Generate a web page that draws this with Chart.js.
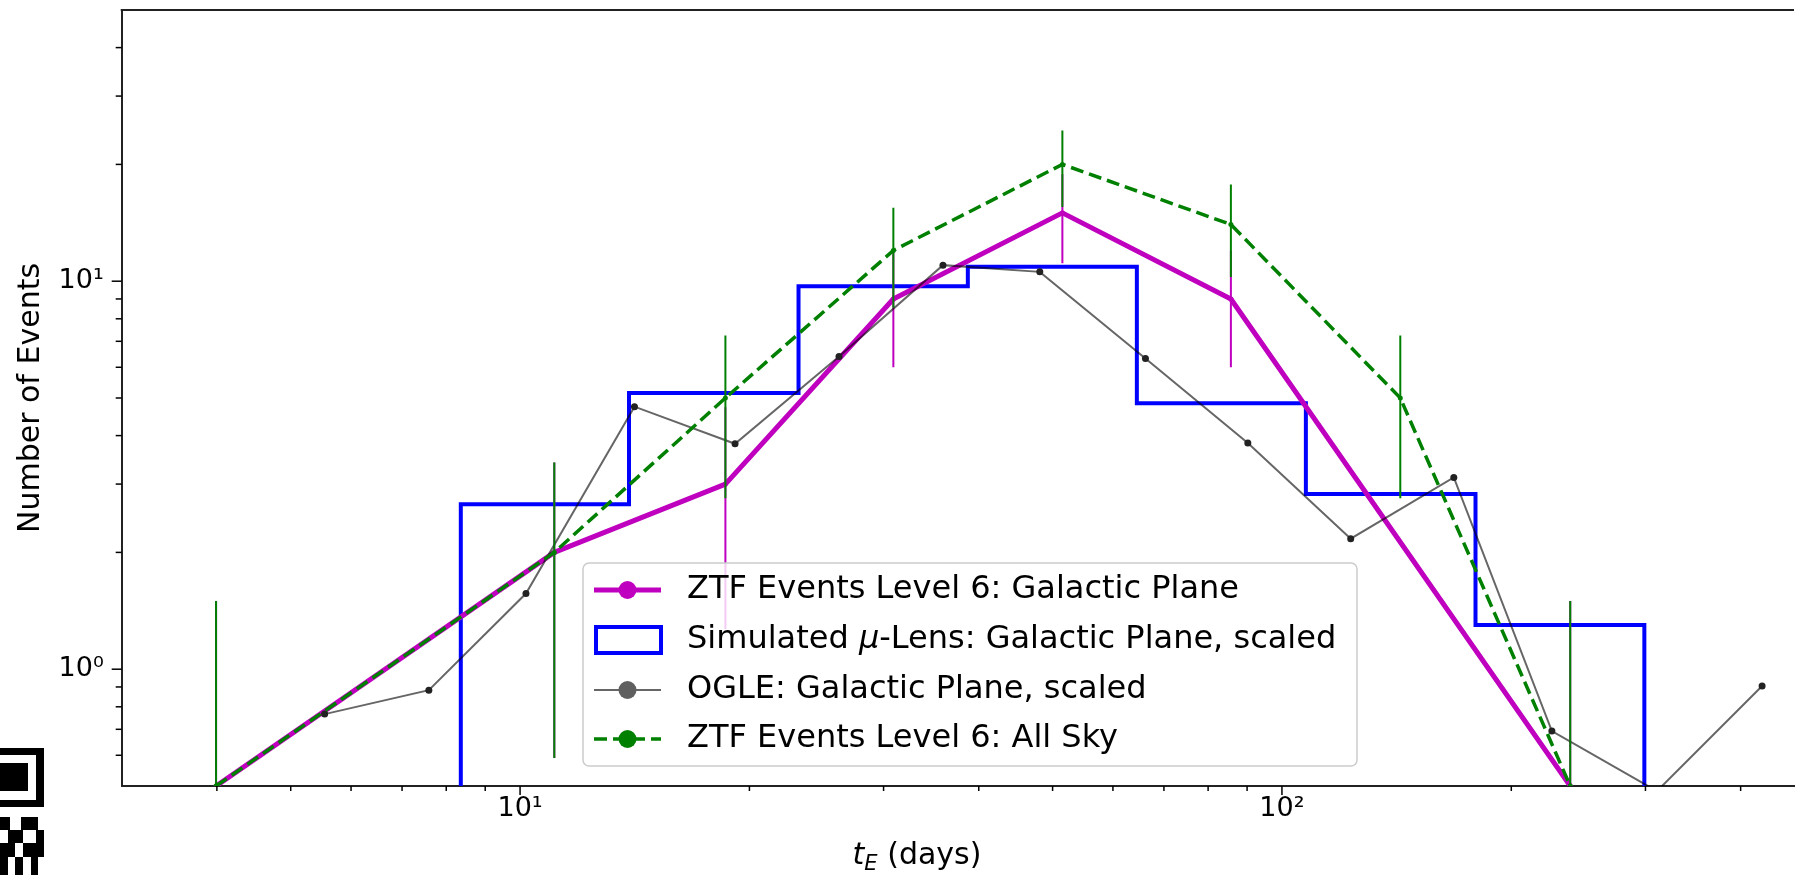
<!DOCTYPE html>
<html>
<head>
<meta charset="utf-8">
<script src="https://cdn.jsdelivr.net/npm/chart.js@4.4.1/dist/chart.umd.min.js"></script>
<style>
  html, body { margin: 0; padding: 0; background: #fff; overflow: hidden; }
  #wrap { width: 1798px; height: 875px; }
</style>
</head>
<body>
<div id="wrap"><canvas id="c" width="1798" height="875"></canvas></div>
<script>
// Einstein-timescale (t_E) distributions of microlensing events.

// ZTF level-6 events in the Galactic plane
const ztfGalTE  = [3.99, 11.09, 18.6, 30.9, 51.5, 85.7, 239];
const ztfGalN   = [0.5, 2, 3, 9, 15, 9, 0.5];
const ztfGalErr = [1.0, 1.41, 1.73, 3.0, 3.87, 3.0, 1.0];

// ZTF level-6 events over the whole sky
const ztfAllTE  = [3.99, 11.09, 18.6, 30.9, 51.5, 85.7, 143, 239];
const ztfAllN   = [0.5, 2, 5, 12, 20, 14, 5, 0.5];
const ztfAllErr = [1.0, 1.41, 2.24, 3.46, 4.47, 3.74, 2.24, 1.0];

// Simulated microlensing histogram (bin edges and scaled counts)
const simEdges  = [8.36, 13.9, 23.2, 38.7, 64.5, 107.5, 179.5, 299];
const simCounts = [2.66, 5.15, 9.71, 10.9, 4.85, 2.83, 1.30];

// OGLE Galactic-plane distribution, scaled
const ogleTE = [5.54, 7.59, 10.18, 14.13, 19.15, 26.22, 35.9, 48.1, 66.2, 90.2, 123.1, 168.1, 226.1, 310.6, 426.8];
const ogleN  = [0.766, 0.883, 1.567, 4.75, 3.81, 6.40, 11.0, 10.57, 6.32, 3.83, 2.17, 3.12, 0.693, 0.485, 0.905];

// Axis ranges and ticks
const xRange = [3, 470];
const yRange = [0.5, 50];
const xMajorTicks = [10, 100];
const xMinorTicks = [4, 5, 6, 7, 8, 9, 20, 30, 40, 50, 60, 70, 80, 90, 200, 300, 400];
const yMajorTicks = [1, 10];
const yMinorTicks = [0.6, 0.7, 0.8, 0.9, 2, 3, 4, 5, 6, 7, 8, 9, 20, 30, 40];
const xTickLabels = {10: '10\u00B9', 100: '10\u00B2'};
const yTickLabels = {1: '10\u2070', 10: '10\u00B9'};

const EMPTY_BIN = 0.1;   // empty bins fall below the visible range
const FAMILY = "'DejaVu Sans', sans-serif";

const MAGENTA = '#bf00bf';
const BLUE = '#0000ff';
const GREEN = '#008000';
const OGLE_LINE = 'rgba(0,0,0,0.6)';

const pts = (xs, ys) => xs.map((x, i) => ({x, y: ys[i]}));
const histPoints = [{x: simEdges[0], y: EMPTY_BIN}].concat(
  simEdges.map((e, i) => ({x: e, y: i < simCounts.length ? simCounts[i] : EMPTY_BIN}))
);

// vertical error bars drawn right after their own dataset
const errorBars = {
  id: 'errorBars',
  afterDatasetDraw(chart, args) {
    const ds = chart.data.datasets[args.index];
    if (!ds.errors) return;
    const {ctx, chartArea: a, scales: {x, y}} = chart;
    ctx.save();
    ctx.beginPath();
    ctx.rect(a.left, a.top, a.right - a.left, a.bottom - a.top);
    ctx.clip();
    ctx.strokeStyle = ds.borderColor;
    ctx.lineWidth = 2;
    ctx.setLineDash([]);
    ds.data.forEach((p, i) => {
      const e = ds.errors[i];
      const px = x.getPixelForValue(p.x);
      const hi = y.getPixelForValue(p.y + e);
      const lo = p.y - e > 0 ? y.getPixelForValue(p.y - e) : a.bottom + 2;
      ctx.beginPath();
      ctx.moveTo(px, hi);
      ctx.lineTo(px, lo);
      ctx.stroke();
    });
    ctx.restore();
  }
};

// frame top edge, tick marks, x-axis title
const frameAndTicks = {
  id: 'frameAndTicks',
  afterDraw(chart) {
    const {ctx, chartArea: a, scales: {x, y}} = chart;
    ctx.save();
    ctx.strokeStyle = '#222';
    ctx.lineWidth = 2;
    ctx.beginPath();
    ctx.moveTo(a.left - 1, a.top);
    ctx.lineTo(a.right, a.top);
    ctx.stroke();

    ctx.strokeStyle = '#000';
    ctx.lineWidth = 1.5;
    const tick = (x0, y0, x1, y1) => { ctx.beginPath(); ctx.moveTo(x0, y0); ctx.lineTo(x1, y1); ctx.stroke(); };
    xMajorTicks.forEach(v => { const p = x.getPixelForValue(v); tick(p, a.bottom, p, a.bottom + 9); });
    xMinorTicks.forEach(v => { const p = x.getPixelForValue(v); tick(p, a.bottom, p, a.bottom + 5); });
    yMajorTicks.forEach(v => { const p = y.getPixelForValue(v); tick(a.left, p, a.left - 10, p); });
    yMinorTicks.forEach(v => { const p = y.getPixelForValue(v); tick(a.left, p, a.left - 6, p); });

    // x-axis title: italic t with subscript E
    ctx.fillStyle = '#000';
    ctx.textBaseline = 'alphabetic';
    const parts = [
      {t: 't', f: `italic 30px ${FAMILY}`, dy: 0},
      {t: 'E', f: `italic 21px ${FAMILY}`, dy: 6},
      {t: ' (days)', f: `30px ${FAMILY}`, dy: 0}
    ];
    let w = 0;
    parts.forEach(p => { ctx.font = p.f; w += ctx.measureText(p.t).width; });
    let cx = 917 - w / 2;
    const base = 864;
    parts.forEach(p => { ctx.font = p.f; ctx.fillText(p.t, cx, base + p.dy); cx += ctx.measureText(p.t).width; });
    ctx.restore();
  }
};

// legend panel inside the plot
const legendPanel = {
  id: 'legendPanel',
  afterDraw(chart) {
    const {ctx} = chart;
    const box = {x: 583, y: 563, w: 774, h: 203, r: 6};
    ctx.save();
    ctx.beginPath();
    ctx.roundRect(box.x, box.y, box.w, box.h, box.r);
    ctx.fillStyle = 'rgba(255,255,255,0.8)';
    ctx.fill();
    ctx.strokeStyle = '#cccccc';
    ctx.lineWidth = 1.5;
    ctx.stroke();

    const rows = [590, 640, 690, 739];
    const hx0 = 594, hx1 = 661, mx = 627.5, tx = 687;
    const ds = chart.data.datasets;
    ds.forEach((d, i) => {
      const yy = rows[i];
      ctx.setLineDash([]);
      if (d.stepped) {
        ctx.strokeStyle = d.borderColor;
        ctx.lineWidth = 4;
        ctx.strokeRect(hx0 + 2, yy - 13, hx1 - hx0 - 2, 26);
      } else {
        ctx.strokeStyle = d.borderColor;
        ctx.lineWidth = d.borderWidth;
        if (d.borderDash) ctx.setLineDash(d.borderDash);
        ctx.beginPath();
        ctx.moveTo(hx0, yy);
        ctx.lineTo(hx1, yy);
        ctx.stroke();
        ctx.setLineDash([]);
        ctx.beginPath();
        ctx.arc(mx, yy, 9, 0, Math.PI * 2);
        ctx.fillStyle = d.legendMarker || d.borderColor;
        ctx.fill();
      }
      // label text, with the Greek letter set in italics
      ctx.fillStyle = '#000';
      ctx.textBaseline = 'middle';
      let cx = tx;
      d.label.split(/(\u03BC)/).forEach(seg => {
        if (!seg) return;
        ctx.font = (seg === '\u03BC' ? 'italic ' : '') + `32px ${FAMILY}`;
        ctx.fillText(seg, cx, yy);
        cx += ctx.measureText(seg).width;
      });
    });
    ctx.restore();
  }
};

// small corner badge at lower left
const cornerBadge = {
  id: 'cornerBadge',
  afterDraw(chart) {
    const ctx = chart.ctx;
    ctx.save();
    ctx.fillStyle = '#000';
    ctx.fillRect(0, 748, 44, 59);
    ctx.fillStyle = '#fff';
    ctx.fillRect(0, 755, 36, 45);
    ctx.fillStyle = '#000';
    ctx.fillRect(0, 763, 28, 28);
    [[0, 817, 10, 13], [21, 817, 17, 13], [8, 830, 15, 13], [36, 830, 8, 13],
     [0, 843, 15, 14], [23, 843, 21, 14], [0, 857, 8, 18], [15, 857, 8, 18], [31, 857, 7, 18]]
      .forEach(c => ctx.fillRect(c[0], c[1], c[2], c[3]));
    ctx.restore();
  }
};

Chart.defaults.font.family = FAMILY;
Chart.defaults.color = '#000';

new Chart(document.getElementById('c'), {
  type: 'line',
  data: {
    datasets: [
      {
        label: 'ZTF Events Level 6: Galactic Plane',
        data: pts(ztfGalTE, ztfGalN),
        errors: ztfGalErr,
        borderColor: MAGENTA, backgroundColor: MAGENTA,
        borderWidth: 5, borderJoinStyle: 'round',
        pointRadius: 2.5, pointBorderWidth: 0, pointBackgroundColor: MAGENTA,
        order: 2
      },
      {
        label: 'Simulated \u03BC-Lens: Galactic Plane, scaled',
        data: histPoints,
        stepped: 'before',
        borderColor: BLUE, backgroundColor: BLUE,
        borderWidth: 4, borderJoinStyle: 'miter',
        pointRadius: 0, fill: false,
        order: 3
      },
      {
        label: 'OGLE: Galactic Plane, scaled',
        data: pts(ogleTE, ogleN),
        borderColor: OGLE_LINE, backgroundColor: '#222',
        borderWidth: 2,
        pointRadius: 3.5, pointBorderWidth: 0, pointBackgroundColor: '#222',
        legendMarker: '#5f5f5f',
        order: 1
      },
      {
        label: 'ZTF Events Level 6: All Sky',
        data: pts(ztfAllTE, ztfAllN),
        errors: ztfAllErr,
        borderColor: GREEN, backgroundColor: GREEN,
        borderWidth: 3.5, borderDash: [13, 6],
        pointRadius: 2.5, pointBorderWidth: 0, pointBackgroundColor: GREEN,
        order: 0
      }
    ]
  },
  options: {
    responsive: false,
    animation: false,
    devicePixelRatio: 1,
    layout: {padding: {top: 10, left: 0, right: 0, bottom: 0}},
    plugins: {legend: {display: false}, tooltip: {enabled: false}},
    elements: {line: {tension: 0}},
    scales: {
      x: {
        type: 'logarithmic',
        min: xRange[0], max: xRange[1],
        grid: {display: false, drawTicks: false},
        border: {display: true, color: '#222', width: 2},
        afterBuildTicks: s => { s.ticks = xMajorTicks.map(v => ({value: v, major: true})); },
        afterFit: s => { s.height = 89; s.paddingLeft = 0; s.paddingRight = 0; },
        ticks: {
          autoSkip: false, maxRotation: 0, padding: 7,
          font: {size: 27, family: FAMILY}, color: '#000',
          callback: v => xTickLabels[v] || ''
        }
      },
      y: {
        type: 'logarithmic',
        min: yRange[0], max: yRange[1],
        grid: {display: false, drawTicks: false},
        border: {display: true, color: '#222', width: 2},
        afterBuildTicks: s => { s.ticks = yMajorTicks.map(v => ({value: v, major: true})); },
        afterFit: s => { s.width = 121.7; s.paddingTop = 0; s.paddingBottom = 0; },
        title: {
          display: true, text: 'Number of Events',
          font: {size: 30, family: FAMILY}, color: '#000',
          padding: {top: 13, bottom: 0}
        },
        ticks: {
          autoSkip: false, padding: 18,
          font: {size: 27, family: FAMILY}, color: '#000',
          callback: v => yTickLabels[v] || ''
        }
      }
    }
  },
  plugins: [errorBars, frameAndTicks, legendPanel, cornerBadge]
});
</script>
</body>
</html>
